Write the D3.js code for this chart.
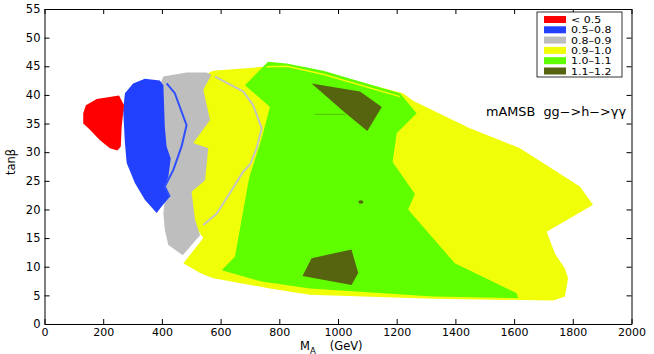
<!DOCTYPE html>
<html>
<head>
<meta charset="utf-8">
<script src="https://cdn.jsdelivr.net/npm/d3@7"></script>
<style>
  body { margin: 0; background: #fff; }
  text { font-family: "DejaVu Sans", sans-serif; fill: #000; }
</style>
</head>
<body>
<div id="chart"></div>
<script>
// chart size
const width = 654;
const height = 354;

// axis ticks
const xTicks = d3.range(0, 2001, 200);
const yTicks = d3.range(0, 56, 5);

// legend
const legendLabels = ["< 0.5", "0.5\u20130.8", "0.8\u20130.9", "0.9\u20131.0", "1.0\u20131.1", "1.1\u20131.2"];
const legendColors = ["#ff0000", "#2141ff", "#bebebe", "#f0ff08", "#60ff00", "#566410"];

// filled regions, [M_A, tanb]
const redRegion = [[141,38.2],[178,39.3],[254,39.9],[271,38.2],[263,34.5],[260,31.0],[248,30.3],[223,30.7],[189,32.1],[155,33.9],[132,35.0],[132,36.8]];
const blueRegion = [[274,40.3],[302,42.0],[342,42.8],[393,42.5],[405,41.7],[410,34.4],[416,31.0],[430,28.9],[422,25.7],[410,24.0],[427,22.2],[399,20.5],[382,19.4],[342,21.7],[308,24.6],[280,28.1],[274,31.6],[268,37.4]];
const grayRegion = [[405,43.2],[484,43.9],[552,43.9],[569,43.5],[541,40.9],[564,35.6],[507,31.6],[558,30.7],[547,25.1],[501,23.1],[513,18.2],[530,15.5],[471,12.0],[422,13.8],[410,16.4],[405,19.3],[414,23.4],[404,26.9],[393,35.6],[393,41.7]];
const yellowRegion = [[575,44.2],[745,44.9],[762,45.7],[950,43.9],[1221,40.3],[1256,39.0],[1449,34.2],[1620,30.7],[1824,24.0],[1869,20.8],[1711,16.1],[1739,12.3],[1773,9.7],[1784,8.0],[1773,4.8],[1733,4.1],[1323,4.4],[904,5.1],[768,6.2],[575,8.0],[530,8.9],[473,10.6],[541,15.0],[496,18.2],[489,23.0],[543,25.1],[550,30.7],[495,31.6],[553,35.6],[529,40.9],[557,43.8]];
const greenRegion = [[762,45.8],[825,45.5],[950,44.2],[1211,40.3],[1268,36.8],[1200,33.3],[1186,28.3],[1262,22.7],[1239,20.0],[1398,10.6],[1608,5.4],[1614,4.5],[1324,4.8],[904,6.2],[740,7.4],[604,9.4],[649,11.8],[694,24.6],[700,26.0],[740,32.4],[768,37.9],[683,41.7]];
const darkUpper = [[910,42.0],[1075,40.6],[1149,37.9],[1100,33.7],[1024,36.9]];
const darkLower = [[910,11.5],[1046,13.0],[1069,8.9],[1046,6.8],[879,8.4]];
const darkDot = [1078, 21.3];

// contour lines
const blueLine = [[416,42.0],[444,40.3],[484,34.7],[467,31.0],[439,26.9],[410,24.0],[427,22.2]];
const grayLine = [[581,43.2],[677,40.6],[711,38.2],[740,34.2],[723,30.7],[700,27.8],[677,26.6],[638,23.4],[587,19.3],[541,17.3]];
const yellowLine = [[757,44.9],[825,45.0],[949,43.6],[1211,39.7]];
const darkLine = [[921,36.6],[1024,36.6]];

const svg = d3.select("#chart").append("svg")
    .attr("width", width)
    .attr("height", height);

const x = d3.scaleLinear().domain([0, 2000]).range([44.5, 631.5]);
const y = d3.scaleLinear().domain([0, 55]).range([324, 9]);

const area = d3.line().x(d => x(d[0])).y(d => y(d[1])).curve(d3.curveLinearClosed);
const line = d3.line().x(d => x(d[0])).y(d => y(d[1]));

const regions = [
    [yellowRegion, legendColors[3]],
    [grayRegion, legendColors[2]],
    [blueRegion, legendColors[1]],
    [redRegion, legendColors[0]],
    [greenRegion, legendColors[4]],
    [darkUpper, legendColors[5]],
    [darkLower, legendColors[5]]
];

svg.append("g").selectAll("path")
    .data(regions)
    .enter().append("path")
    .attr("d", d => area(d[0]))
    .attr("fill", d => d[1]);

svg.append("ellipse")
    .attr("cx", x(darkDot[0]))
    .attr("cy", y(darkDot[1]))
    .attr("rx", 2.5)
    .attr("ry", 1.7)
    .attr("fill", legendColors[5]);

const lines = [
    [blueLine, "#2f4fff", 2],
    [grayLine, "#c4c4c4", 2],
    [yellowLine, "#f0ff08", 1.5],
    [darkLine, "#4e8a00", 0.6]
];

svg.append("g").selectAll("path")
    .data(lines)
    .enter().append("path")
    .attr("d", d => line(d[0]))
    .attr("fill", "none")
    .attr("stroke", d => d[1])
    .attr("stroke-width", d => d[2]);

// axes, MATLAB style box with inward ticks
const gx = svg.append("g")
    .attr("transform", `translate(0,${y(0)})`)
    .call(d3.axisBottom(x).tickValues(xTicks).tickFormat(d3.format("d")).tickSize(-5).tickPadding(4).tickSizeOuter(0));
const gy = svg.append("g")
    .attr("transform", `translate(${x(0)},0)`)
    .call(d3.axisLeft(y).tickValues(yTicks).tickFormat(d3.format("d")).tickSize(-5).tickPadding(4).tickSizeOuter(0));
const gxTop = svg.append("g")
    .attr("transform", `translate(0,${y(55)})`)
    .call(d3.axisTop(x).tickValues(xTicks).tickSize(-5).tickFormat("").tickSizeOuter(0));
const gyRight = svg.append("g")
    .attr("transform", `translate(${x(2000)},0)`)
    .call(d3.axisRight(y).tickValues(yTicks).tickSize(-5).tickFormat("").tickSizeOuter(0));

[gx, gy, gxTop, gyRight].forEach(g => {
    g.selectAll("text").attr("font-size", 11.5).attr("font-family", "DejaVu Sans");
    g.selectAll("line").attr("stroke", "#000");
    g.select(".domain").attr("stroke", "#000");
});
gx.selectAll("text").attr("font-size", 11);

// axis labels
const xLabel = svg.append("text")
    .attr("x", 300)
    .attr("y", 350)
    .attr("font-size", 11.5);
xLabel.append("tspan").text("M");
xLabel.append("tspan").attr("dy", 3.5).attr("font-size", 8.5).text("A");
xLabel.append("tspan").attr("dy", -3.5).attr("dx", 14).text("(GeV)");

svg.append("text")
    .attr("transform", "translate(15,162) rotate(-90)")
    .attr("text-anchor", "middle")
    .attr("font-size", 11.5)
    .text("tan\u03b2");

// annotation
svg.append("text")
    .attr("x", 486)
    .attr("y", 116)
    .attr("font-size", 11.5)
    .attr("textLength", 140)
    .attr("lengthAdjust", "spacingAndGlyphs")
    .style("white-space", "pre")
    .text("mAMSB  gg\u2212>h\u2212>\u03b3\u03b3");

// legend
const legend = svg.append("g");
legend.append("rect")
    .attr("x", 537)
    .attr("y", 12)
    .attr("width", 85)
    .attr("height", 65)
    .attr("fill", "#fff")
    .attr("stroke", "#000")
    .attr("stroke-width", 0.8);

const rows = legend.selectAll("g.row")
    .data(legendLabels)
    .enter().append("g")
    .attr("class", "row")
    .attr("transform", (d, i) => `translate(0,${19.5 + i * 10.3})`);

rows.append("rect")
    .attr("x", 544)
    .attr("y", -3.5)
    .attr("width", 22)
    .attr("height", 7)
    .attr("fill", (d, i) => legendColors[i]);

rows.append("text")
    .attr("transform", "translate(571,3.5) scale(1.25,1)")
    .attr("font-size", 8.8)
    .text(d => d);
</script>
</body>
</html>
